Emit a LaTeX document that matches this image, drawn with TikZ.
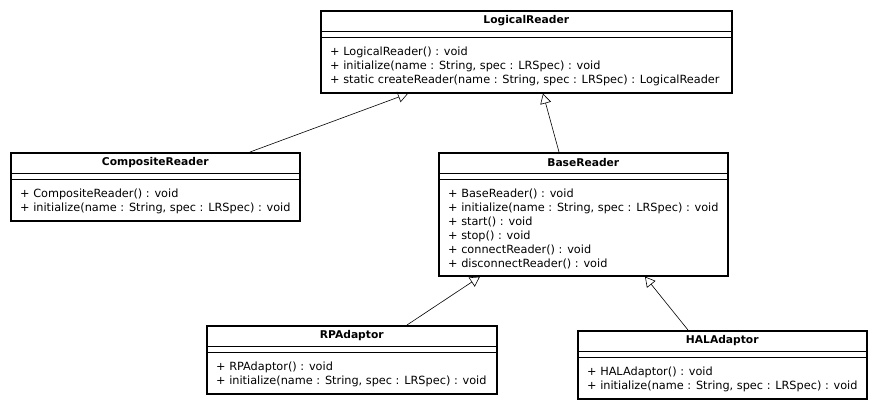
\documentclass[tikz,border=0pt]{standalone}
\usepackage{fontspec}
\setmainfont{DejaVu Sans}
\usetikzlibrary{positioning,calc,arrows.meta}

\tikzset{
    classbox/.style={draw, line width=1.6pt, anchor=north west, inner sep=0pt},
    classname/.style={font=\bfseries\fontsize{10.7}{12}\selectfont, inner sep=0pt},
    classops/.style={font=\fontsize{11.3}{14}\selectfont, align=left, anchor=north west, inner sep=0pt},
    sepline/.style={line width=0.8pt},
    inherit/.style={-{Triangle[open, length=10pt, width=11pt]}, line width=0.6pt}
}

\begin{document}
\begin{tikzpicture}[x=1pt, y=-1pt]
    \fill[white] (0,0) rectangle (876,408);
    \useasboundingbox (0,0) rectangle (876,408);

    % LogicalReader
    \node[classbox, minimum width=411pt, minimum height=82pt] (lr) at (320,10) {};
    \node[classname] (lrname) at ($(lr.north)+(0,11)$) {LogicalReader};
    \draw[sepline] ($(lr.north west)+(0,21)$) -- ($(lr.north east)+(0,21)$);
    \draw[sepline] ($(lr.north west)+(0,27)$) -- ($(lr.north east)+(0,27)$);
    \node[classops] (lrops) at ($(lr.north west)+(10,37)$) {+ LogicalReader() : void\\
        + initialize(name : String, spec : LRSpec) : void\\
        + static createReader(name : String, spec : LRSpec) : LogicalReader};

    % CompositeReader
    \node[classbox, minimum width=289pt, minimum height=68pt] (cr) at (10,152) {};
    \node[classname] (crname) at ($(cr.north)+(0,11)$) {CompositeReader};
    \draw[sepline] ($(cr.north west)+(0,21)$) -- ($(cr.north east)+(0,21)$);
    \draw[sepline] ($(cr.north west)+(0,27)$) -- ($(cr.north east)+(0,27)$);
    \node[classops] (crops) at ($(cr.north west)+(10,37)$) {+ CompositeReader() : void\\
        + initialize(name : String, spec : LRSpec) : void};

    % BaseReader
    \node[classbox, minimum width=289pt, minimum height=123pt] (br) at (438,152) {};
    \node[classname] (brname) at ($(br.north)+(0,11)$) {BaseReader};
    \draw[sepline] ($(br.north west)+(0,21)$) -- ($(br.north east)+(0,21)$);
    \draw[sepline] ($(br.north west)+(0,27)$) -- ($(br.north east)+(0,27)$);
    \node[classops] (brops) at ($(br.north west)+(10,37)$) {+ BaseReader() : void\\
        + initialize(name : String, spec : LRSpec) : void\\
        + start() : void\\
        + stop() : void\\
        + connectReader() : void\\
        + disconnectReader() : void};

    % RPAdaptor
    \node[classbox, minimum width=290pt, minimum height=68pt] (rp) at (206,325) {};
    \node[classname] (rpname) at ($(rp.north)+(0,11)$) {RPAdaptor};
    \draw[sepline] ($(rp.north west)+(0,21)$) -- ($(rp.north east)+(0,21)$);
    \draw[sepline] ($(rp.north west)+(0,27)$) -- ($(rp.north east)+(0,27)$);
    \node[classops] (rpops) at ($(rp.north west)+(10,37)$) {+ RPAdaptor() : void\\
        + initialize(name : String, spec : LRSpec) : void};

    % HALAdaptor
    \node[classbox, minimum width=289pt, minimum height=68pt] (hal) at (577,330) {};
    \node[classname] (halname) at ($(hal.north)+(0,11)$) {HALAdaptor};
    \draw[sepline] ($(hal.north west)+(0,21)$) -- ($(hal.north east)+(0,21)$);
    \draw[sepline] ($(hal.north west)+(0,27)$) -- ($(hal.north east)+(0,27)$);
    \node[classops] (halops) at ($(hal.north west)+(10,37)$) {+ HALAdaptor() : void\\
        + initialize(name : String, spec : LRSpec) : void};

    % generalizations
    \draw[inherit] ($(cr.north west)+(240,0)$) -- ($(lr.south west)+(88,0)$);
    \draw[inherit] ($(br.north west)+(121,0)$) -- ($(lr.south west)+(223,0)$);
    \draw[inherit] ($(rp.north west)+(201,0)$) -- ($(br.south west)+(42,0)$);
    \draw[inherit] ($(hal.north west)+(111,0)$) -- ($(br.south west)+(207,0)$);
\end{tikzpicture}
\end{document}
